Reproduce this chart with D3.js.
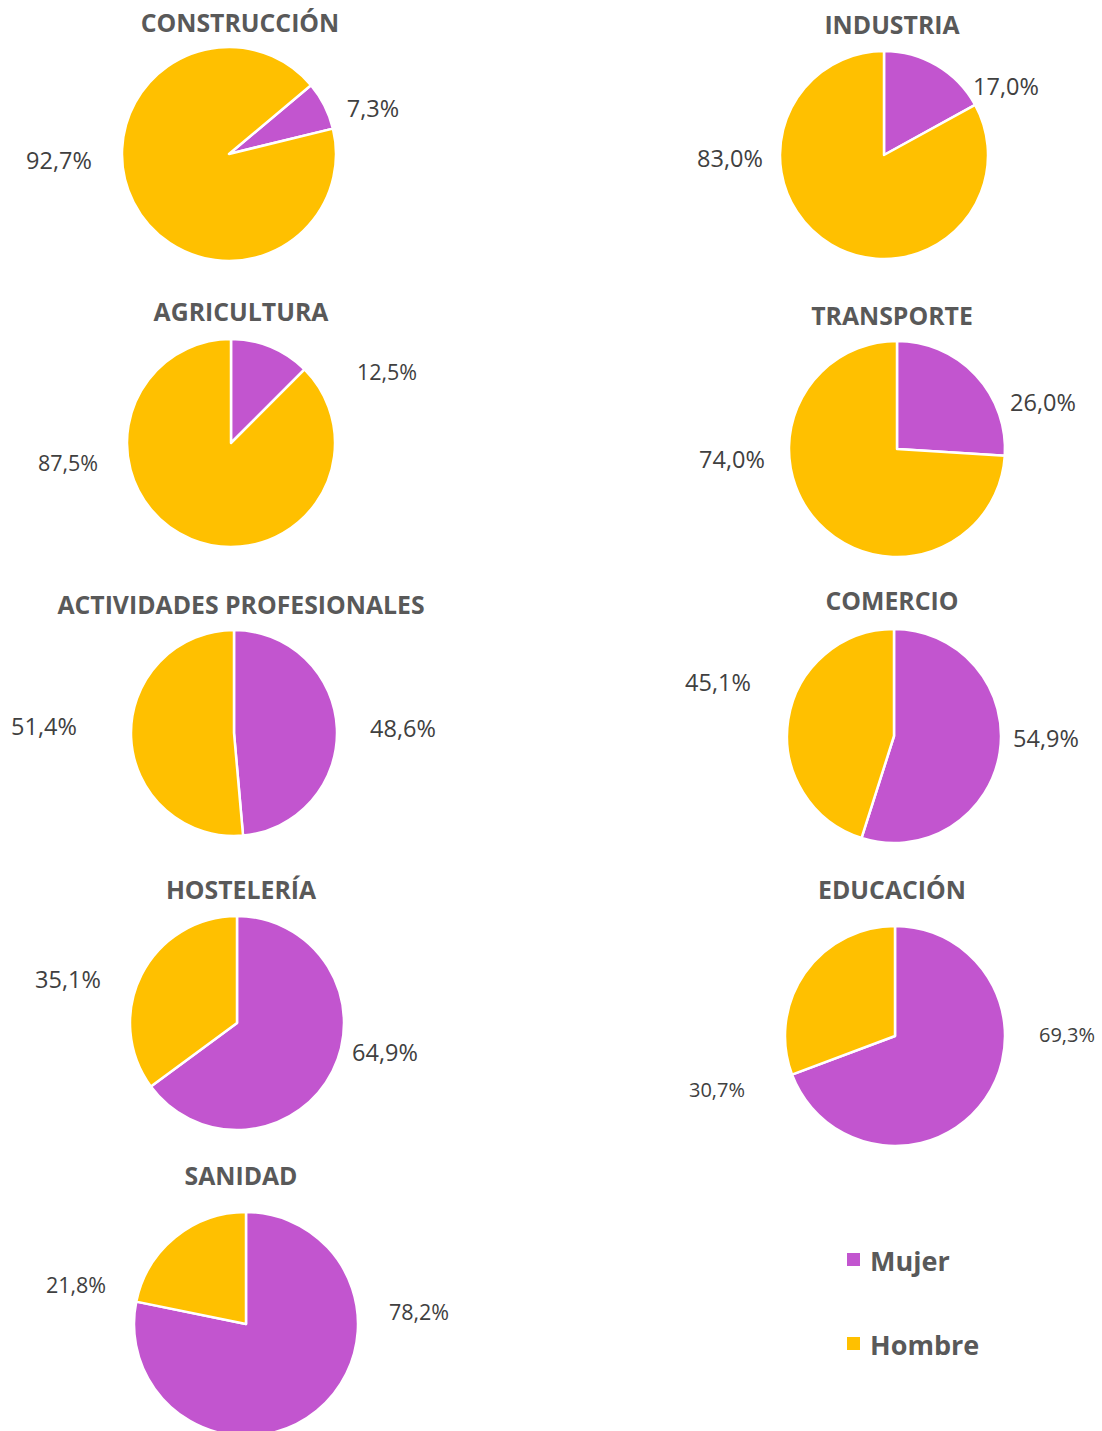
<!DOCTYPE html>
<html>
<head>
<meta charset="utf-8">
<script src="https://cdn.jsdelivr.net/npm/d3@7"></script>
<style>
  body { margin: 0; background: #fff; }
  svg { display: block; }
  text { font-family: "Open Sans", Lato, sans-serif; }
</style>
</head>
<body>
<svg id="chart" width="1102" height="1431"></svg>
<script>
// datos: % de ocupados por sexo en cada sector
const sectors = ["CONSTRUCCIÓN", "INDUSTRIA", "AGRICULTURA", "TRANSPORTE", "ACTIVIDADES PROFESIONALES",
                 "COMERCIO", "HOSTELERÍA", "EDUCACIÓN", "SANIDAD"];
const mujer  = [7.3, 17.0, 12.5, 26.0, 48.6, 54.9, 64.9, 69.3, 78.2];
const hombre = [92.7, 83.0, 87.5, 74.0, 51.4, 45.1, 35.1, 30.7, 21.8];
const seriesNames = ["Mujer", "Hombre"];

const colors = { Mujer: "#C255CF", Hombre: "#FFC000" };
const titleColor = "#595959", labelColor = "#404040";

// posicion de cada tarta (centro, radio, giro en grados, etiquetas)
const layout = [
  { cx: 229, cy: 154, r: 107, rot: 50, ty: 22,  fs: 23.5, lab: [[373, 108], [59, 160]] },
  { cx: 884, cy: 155, r: 104, rot: 0,  ty: 24,  fs: 23.5, lab: [[1006, 86], [730, 158]] },
  { cx: 231, cy: 443, r: 104, rot: 0,  ty: 311, fs: 21.5, lab: [[387, 371], [68, 462]] },
  { cx: 897, cy: 449, r: 108, rot: 0,  ty: 315, fs: 23.5, lab: [[1043, 402], [732, 459]] },
  { cx: 234, cy: 733, r: 103, rot: 0,  ty: 604, fs: 23.5, lab: [[403, 728], [44, 726]] },
  { cx: 894, cy: 736, r: 107, rot: 0,  ty: 600, fs: 23.5, lab: [[1046, 738], [718, 682]] },
  { cx: 237, cy: 1023, r: 107, rot: 0, ty: 889, fs: 23.5, lab: [[385, 1052], [68, 979]] },
  { cx: 895, cy: 1036, r: 110, rot: 0, ty: 889, fs: 20,   lab: [[1067, 1034], [717, 1089]] },
  { cx: 246, cy: 1324, r: 112, rot: 0, ty: 1175, fs: 21.5, lab: [[419, 1311], [76, 1284]] },
];
const titleX = [240, 892, 241, 892, 241, 892, 241, 892, 241];

const svg = d3.select("#chart");
const fmt = v => v.toFixed(1).replace(".", ",") + "%";

sectors.forEach((name, i) => {
  const L = layout[i];
  const values = [{ key: "Mujer", v: mujer[i] }, { key: "Hombre", v: hombre[i] }];
  const rot = L.rot * Math.PI / 180;
  const pie = d3.pie().sort(null).value(d => d.v)
    .startAngle(rot).endAngle(rot + 2 * Math.PI);
  const arc = d3.arc().innerRadius(0).outerRadius(L.r);

  const g = svg.append("g").attr("transform", `translate(${L.cx},${L.cy})`);
  g.selectAll("path")
    .data(pie(values))
    .join("path")
    .attr("d", arc)
    .attr("fill", d => colors[d.data.key])
    .attr("stroke", "#fff")
    .attr("stroke-width", 2.5)
    .attr("stroke-linejoin", "round");

  svg.append("text")
    .attr("x", titleX[i])
    .attr("y", L.ty)
    .attr("text-anchor", "middle")
    .attr("dominant-baseline", "central")
    .attr("font-size", 24.8)
    .attr("font-weight", "bold")
    .attr("fill", titleColor)
    .text(name);

  values.forEach((d, j) => {
    svg.append("text")
      .attr("x", L.lab[j][0])
      .attr("y", L.lab[j][1])
      .attr("text-anchor", "middle")
      .attr("dominant-baseline", "central")
      .attr("font-size", L.fs)
      .attr("fill", labelColor)
      .text(fmt(d.v));
  });
});

// leyenda
const legend = svg.append("g");
seriesNames.forEach((s, k) => {
  const y = 1260 + k * 84;
  legend.append("rect")
    .attr("x", 847).attr("y", y - 7)
    .attr("width", 13).attr("height", 13)
    .attr("fill", colors[s]);
  legend.append("text")
    .attr("x", 870).attr("y", y)
    .attr("dominant-baseline", "central")
    .attr("font-size", 27)
    .attr("font-weight", "bold")
    .attr("fill", titleColor)
    .text(s);
});
</script>
</body>
</html>
